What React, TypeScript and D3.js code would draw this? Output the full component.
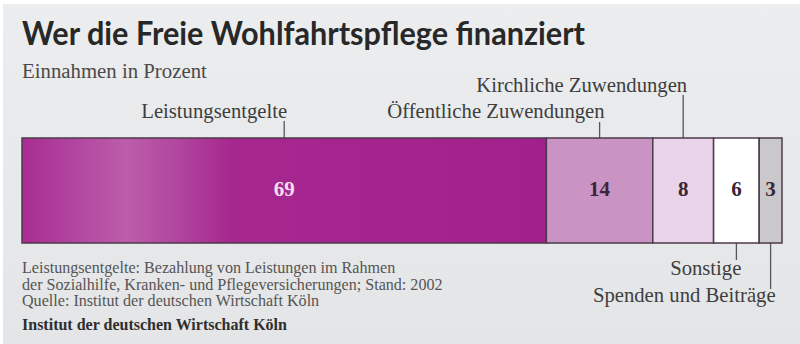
import { useMemo } from "react";
import * as d3 from "d3";

// Einnahmen in Prozent, Stand 2002
const categories = [
  "Leistungsentgelte",
  "Öffentliche Zuwendungen",
  "Kirchliche Zuwendungen",
  "Sonstige",
  "Spenden und Beiträge",
];
const values = [69, 14, 8, 6, 3];
const fills = ["url(#mainGrad)", "#c993c4", "#e9d4e9", "#ffffff", "#c9c9cb"];
const valueColors = ["#f4dff0", "#3a2637", "#3a2637", "#3a2637", "#3a2637"];
// where the label goes: above/below the bar, text baseline, end of leader line
const labelPos = [
  { side: "top", y: 118, dx: 3, lineEnd: 121 },
  { side: "top", y: 118, dx: 5, lineEnd: 122 },
  { side: "top", y: 92, dx: 4, lineEnd: 95 },
  { side: "bottom", y: 275, dx: 5, lineEnd: 260 },
  { side: "bottom", y: 302, dx: 5, lineEnd: 289 },
];
const notes = [
  "Leistungsentgelte: Bezahlung von Leistungen im Rahmen",
  "der Sozialhilfe, Kranken- und Pflegeversicherungen; Stand: 2002",
  "Quelle: Institut der deutschen Wirtschaft Köln",
];

const W = 800;
const H = 344;
const serif = "'Liberation Serif', serif";

export default function App() {
  const barTop = 138;
  const barBottom = 243;

  const x = d3.scaleLinear().domain([0, 100]).range([22, 782]);

  const segs = useMemo(() => {
    const ends = d3.cumsum(values);
    return values.map((v, i) => ({
      name: categories[i],
      value: v,
      x0: ends[i] - v,
      x1: ends[i],
    }));
  }, []);

  return (
    <svg
      width={W}
      height={H}
      style={{ position: "absolute", left: 0, top: 0, display: "block" }}
    >
      <defs>
        <linearGradient id="bgGrad" x1="0" y1="0" x2="0" y2="1">
          <stop offset="0" stopColor="#ecedee" />
          <stop offset="1" stopColor="#e4e5e7" />
        </linearGradient>
        <linearGradient id="mainGrad" x1="0" y1="0" x2="1" y2="0">
          <stop offset="0" stopColor="#a82c92" />
          <stop offset="0.1" stopColor="#b146a0" />
          <stop offset="0.2" stopColor="#bb5eaa" />
          <stop offset="0.3" stopColor="#b0459e" />
          <stop offset="0.4" stopColor="#a6288f" />
          <stop offset="1" stopColor="#a2208b" />
        </linearGradient>
      </defs>
      <rect x={0} y={0} width={W} height={H} fill="#ffffff" />
      <rect x={3} y={4} width={W - 3} height={H - 4} fill="url(#bgGrad)" />

      <text
        x={22}
        y={45}
        style={{ fontFamily: "Lato, 'Open Sans', sans-serif" }}
        fontWeight={700}
        fontSize={32}
        textLength={563}
        lengthAdjust="spacingAndGlyphs"
        fill="#282828"
      >
        Wer die Freie Wohlfahrtspflege finanziert
      </text>
      <text x={22} y={78} style={{ fontFamily: serif }} fontSize={20.8} fill="#4a4a4a">
        Einnahmen in Prozent
      </text>

      {/* leader lines and category labels */}
      {segs.map((d, i) => {
        const cx = x((d.x0 + d.x1) / 2);
        const p = labelPos[i];
        const y1 = p.side === "top" ? p.lineEnd : barBottom;
        const y2 = p.side === "top" ? barTop : p.lineEnd;
        return (
          <g key={d.name}>
            <line x1={cx} x2={cx} y1={y1} y2={y2} stroke="#555" strokeWidth={1.3} />
            <text
              x={cx + p.dx}
              y={p.y}
              textAnchor="end"
              style={{ fontFamily: serif }}
              fontSize={20.7}
              fill="#3e3e3e"
            >
              {d.name}
            </text>
          </g>
        );
      })}

      {/* bar segments */}
      {segs.map((d, i) => (
        <rect
          key={"r" + d.name}
          x={x(d.x0)}
          y={barTop}
          width={x(d.x1) - x(d.x0)}
          height={barBottom - barTop}
          fill={fills[i]}
          stroke="#4d3a4b"
          strokeWidth={1.5}
        />
      ))}
      {segs.map((d, i) => (
        <text
          key={"v" + d.name}
          x={x((d.x0 + d.x1) / 2)}
          y={196}
          textAnchor="middle"
          style={{ fontFamily: serif }}
          fontWeight={700}
          fontSize={21}
          fill={valueColors[i]}
        >
          {d.value}
        </text>
      ))}

      {notes.map((n, i) => (
        <text
          key={n}
          x={22}
          y={273 + i * 16.5}
          style={{ fontFamily: serif }}
          fontSize={16.1}
          fill="#555"
        >
          {n}
        </text>
      ))}
      <text
        x={22}
        y={330}
        style={{ fontFamily: serif }}
        fontWeight={700}
        fontSize={16}
        fill="#2e2e2e"
      >
        Institut der deutschen Wirtschaft Köln
      </text>
    </svg>
  );
}
